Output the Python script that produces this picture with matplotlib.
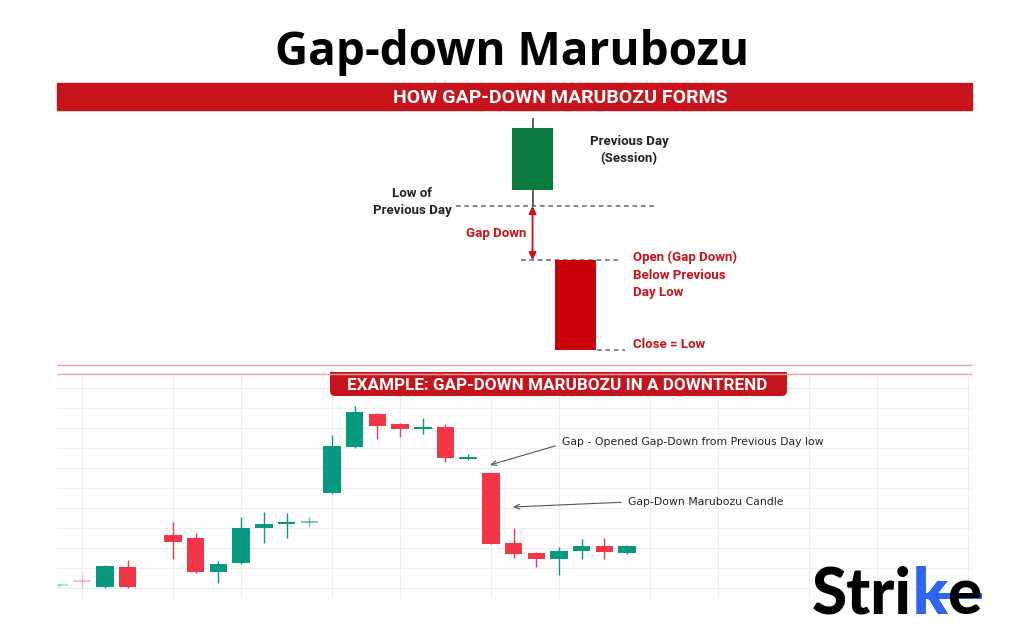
import matplotlib.pyplot as plt
from matplotlib.patches import Rectangle, FancyBboxPatch

W, H = 1024, 640

# --- top panel: how the pattern forms (prev day + gap-down day)
form_open = [105, 70]
form_high = [141, 70]
form_low = [97, 25]
form_close = [136, 25]
form_colors = ['#0b7a3f', '#c8000b']

# --- bottom panel: example in a downtrend (slot = trading day index)
slots = [-2, -1, 0, 1, 3, 4, 5, 6, 7, 8, 9, 10, 11, 12, 13, 14, 15, 16, 17, 18, 19, 20, 21, 22, 23]
opens = [27, 30, 26.5, 36.5, 52.5, 51, 34, 38.5, 56, 58, 58.5, 73.5, 96.5, 113, 108, 105.5, 106.5, 90.5, 83.5, 48.5, 43.5, 40.5, 44.5, 47, 43.5]
highs = [28, 33, 37.5, 40, 59, 53.5, 39.5, 61.5, 64, 63.5, 61.5, 102.5, 117, 113.5, 108.5, 111, 108, 93, 83.5, 56, 44, 46.5, 50.5, 51, 47.5]
lows = [26, 26, 26, 26, 40.5, 33.5, 28.5, 38, 48.5, 51, 56.5, 73, 96, 100.5, 101.5, 103, 89, 90, 48, 41, 36.5, 32.5, 40.5, 40.5, 43]
closes = [27, 29.5, 37, 26.5, 49, 34, 38, 56, 58, 59, 59, 97, 114, 107, 105.5, 106.5, 91, 91.5, 48, 43, 40.5, 44.5, 47, 44, 47]
alphas = [0.3, 0.3] + [1] * 8 + [0.55] + [1] * 14
grid_slots = [-1, 3, 6, 10, 13, 17, 20, 24, 27, 31, 34, 38]
grid_prices = [26, 36, 46, 56, 66, 76, 86, 96, 106, 116, 126]

UP, DOWN = '#089981', '#f23645'
RED = '#c8101a'

fig = plt.figure(figsize=(10.24, 6.4), dpi=100)
fig.patch.set_facecolor('white')


def px_axes(x0, y0, x1, y1, **kw):
    return fig.add_axes([x0 / W, 1 - y1 / H, (x1 - x0) / W, (y1 - y0) / H], **kw)


# ---------------- top diagram
ax1 = px_axes(57, 110, 972, 362)
ax1.set_xlim(-11.06, 10.22)
ax1.set_ylim(19, 145)
ax1.axis('off')
for i in range(2):
    ax1.vlines(i, form_low[i], form_high[i], color='#444', lw=1.2, zorder=1)
    ax1.bar(i, form_close[i] - form_open[i], bottom=form_open[i], width=0.97,
            color=form_colors[i], zorder=2)

dash = (0, (3, 2.5))
ax1.hlines(form_low[0], -1.78, 2.85, colors='#666', linestyles=dash, lw=1.1, zorder=0)
ax1.hlines(form_open[1], -0.27, 2.03, colors='#666', linestyles=dash, lw=1.1, zorder=0)
ax1.hlines(form_close[1], 1.5, 2.15, colors='#666', linestyles=dash, lw=1.1, zorder=0)
ax1.annotate('', xy=(0, form_open[1]), xytext=(0, form_low[0]),
             arrowprops=dict(arrowstyle='<|-|>', color=RED, lw=1.3,
                             mutation_scale=11, shrinkA=0, shrinkB=0))

lab = dict(family='Roboto', weight='bold', fontsize=9.5, linespacing=1.45)
ax1.text(2.24, 125, 'Previous Day\n(Session)', ha='center', va='center', color='#222', **lab)
ax1.text(-2.8, 99, 'Low of\nPrevious Day', ha='center', va='center', color='#222', **lab)
ax1.text(-0.85, 83.5, 'Gap Down', ha='center', va='center', color=RED, **lab)
ax1.text(2.34, 62.5, 'Open (Gap Down)\nBelow Previous\nDay Low', ha='left', va='center',
         color=RED, **lab)
ax1.text(2.34, 27.5, 'Close = Low', ha='left', va='center', color=RED, **lab)

# ---------------- bottom example chart
ax2 = px_axes(57, 376, 972, 598)
ax2.set_xlim(-2.11, 38.19)
ax2.set_ylim(21, 132)
for s in ax2.spines.values():
    s.set_visible(False)
ax2.set_xticks(grid_slots)
ax2.set_yticks(grid_prices)
ax2.tick_params(length=0, labelbottom=False, labelleft=False)
ax2.grid(color='#efefef', lw=0.8)
ax2.set_axisbelow(True)

for s, o, h, l, c, a in zip(slots, opens, highs, lows, closes, alphas):
    col = UP if c >= o else DOWN
    ax2.vlines(s, l, h, color=col, lw=1.0, alpha=a, zorder=2)
    hgt = c - o
    if abs(hgt) < 1:
        hgt = 1 if hgt >= 0 else -1
    ax2.bar(s, hgt, bottom=o, width=0.77, color=col, alpha=a, zorder=3)

note = dict(fontsize=7.8, color='#222', ha='left', va='center')
ax2.annotate('Gap - Opened Gap-Down from Previous Day low', xy=(16.96, 87.5),
             xytext=(20.13, 99), **note,
             arrowprops=dict(arrowstyle='->,head_length=0.5,head_width=0.22', color='#555',
                             lw=0.8, relpos=(0, 0.3), shrinkA=3, shrinkB=0))
ax2.annotate('Gap-Down Marubozu Candle', xy=(17.97, 66.5), xytext=(23.04, 69), **note,
             arrowprops=dict(arrowstyle='->,head_length=0.5,head_width=0.22', color='#555',
                             lw=0.8, relpos=(0, 0.5), shrinkA=3, shrinkB=0))

# ---------------- overlay: title, banners, logo
ov = fig.add_axes([0, 0, 1, 1], zorder=5)
ov.set_xlim(0, W)
ov.set_ylim(H, 0)
ov.axis('off')
ov.patch.set_alpha(0)

ov.text(512, 65, 'Gap-down Marubozu', ha='center', va='baseline', fontsize=33,
        weight='bold', family='Open Sans', color='black')

ov.add_patch(Rectangle((57, 83), 915, 27, color='#c7141c'))
ov.text(560, 103, 'HOW GAP-DOWN MARUBOZU FORMS', ha='center', va='baseline', fontsize=14,
        weight='bold', family='Roboto', color='white')

ov.hlines([365, 374], 57, 972, color='#eaa4a4', lw=1.0)
ov.add_patch(FancyBboxPatch((330, 372), 457, 24, boxstyle='round,pad=0,rounding_size=5',
                            color='#c7141c', lw=0))
ov.add_patch(Rectangle((330, 372), 457, 10, color='#c7141c', lw=0))
ov.text(557, 390, 'EXAMPLE: GAP-DOWN MARUBOZU IN A DOWNTREND', ha='center', va='baseline',
        fontsize=12.3, weight='bold', family='Roboto', color='white')

# logo
r = fig.canvas.get_renderer()
blue = '#2b66f6'
fs = 46
em = fs * 100 / 72
logo = dict(fontsize=fs, weight='black', family='Lato', va='baseline', ha='left')
x = 812
t = ov.text(x, 614, 'Stri', color='black', **logo)
x += t.get_window_extent(renderer=r).width
xk = x
t = ov.text(xk, 614, 'k', color='black', **logo)
wk = t.get_window_extent(renderer=r).width
# arms of the k in blue: same glyph clipped to the right of the stem
tk = ov.text(xk, 614, 'k', color=blue, **logo)
clip = Rectangle((xk + 0.21 * em, 540), 200, 100, transform=ov.transData)
tk.set_clip_path(clip)
x = xk + wk
t = ov.text(x, 614, 'e', color='black', **logo)
we = t.get_window_extent(renderer=r).width
ov.add_patch(Rectangle((xk + 0.35 * em, 593), x + we - xk - 0.35 * em + 1, 6, color=blue, lw=0))

fig.savefig('out.png', dpi=100, facecolor='white')
